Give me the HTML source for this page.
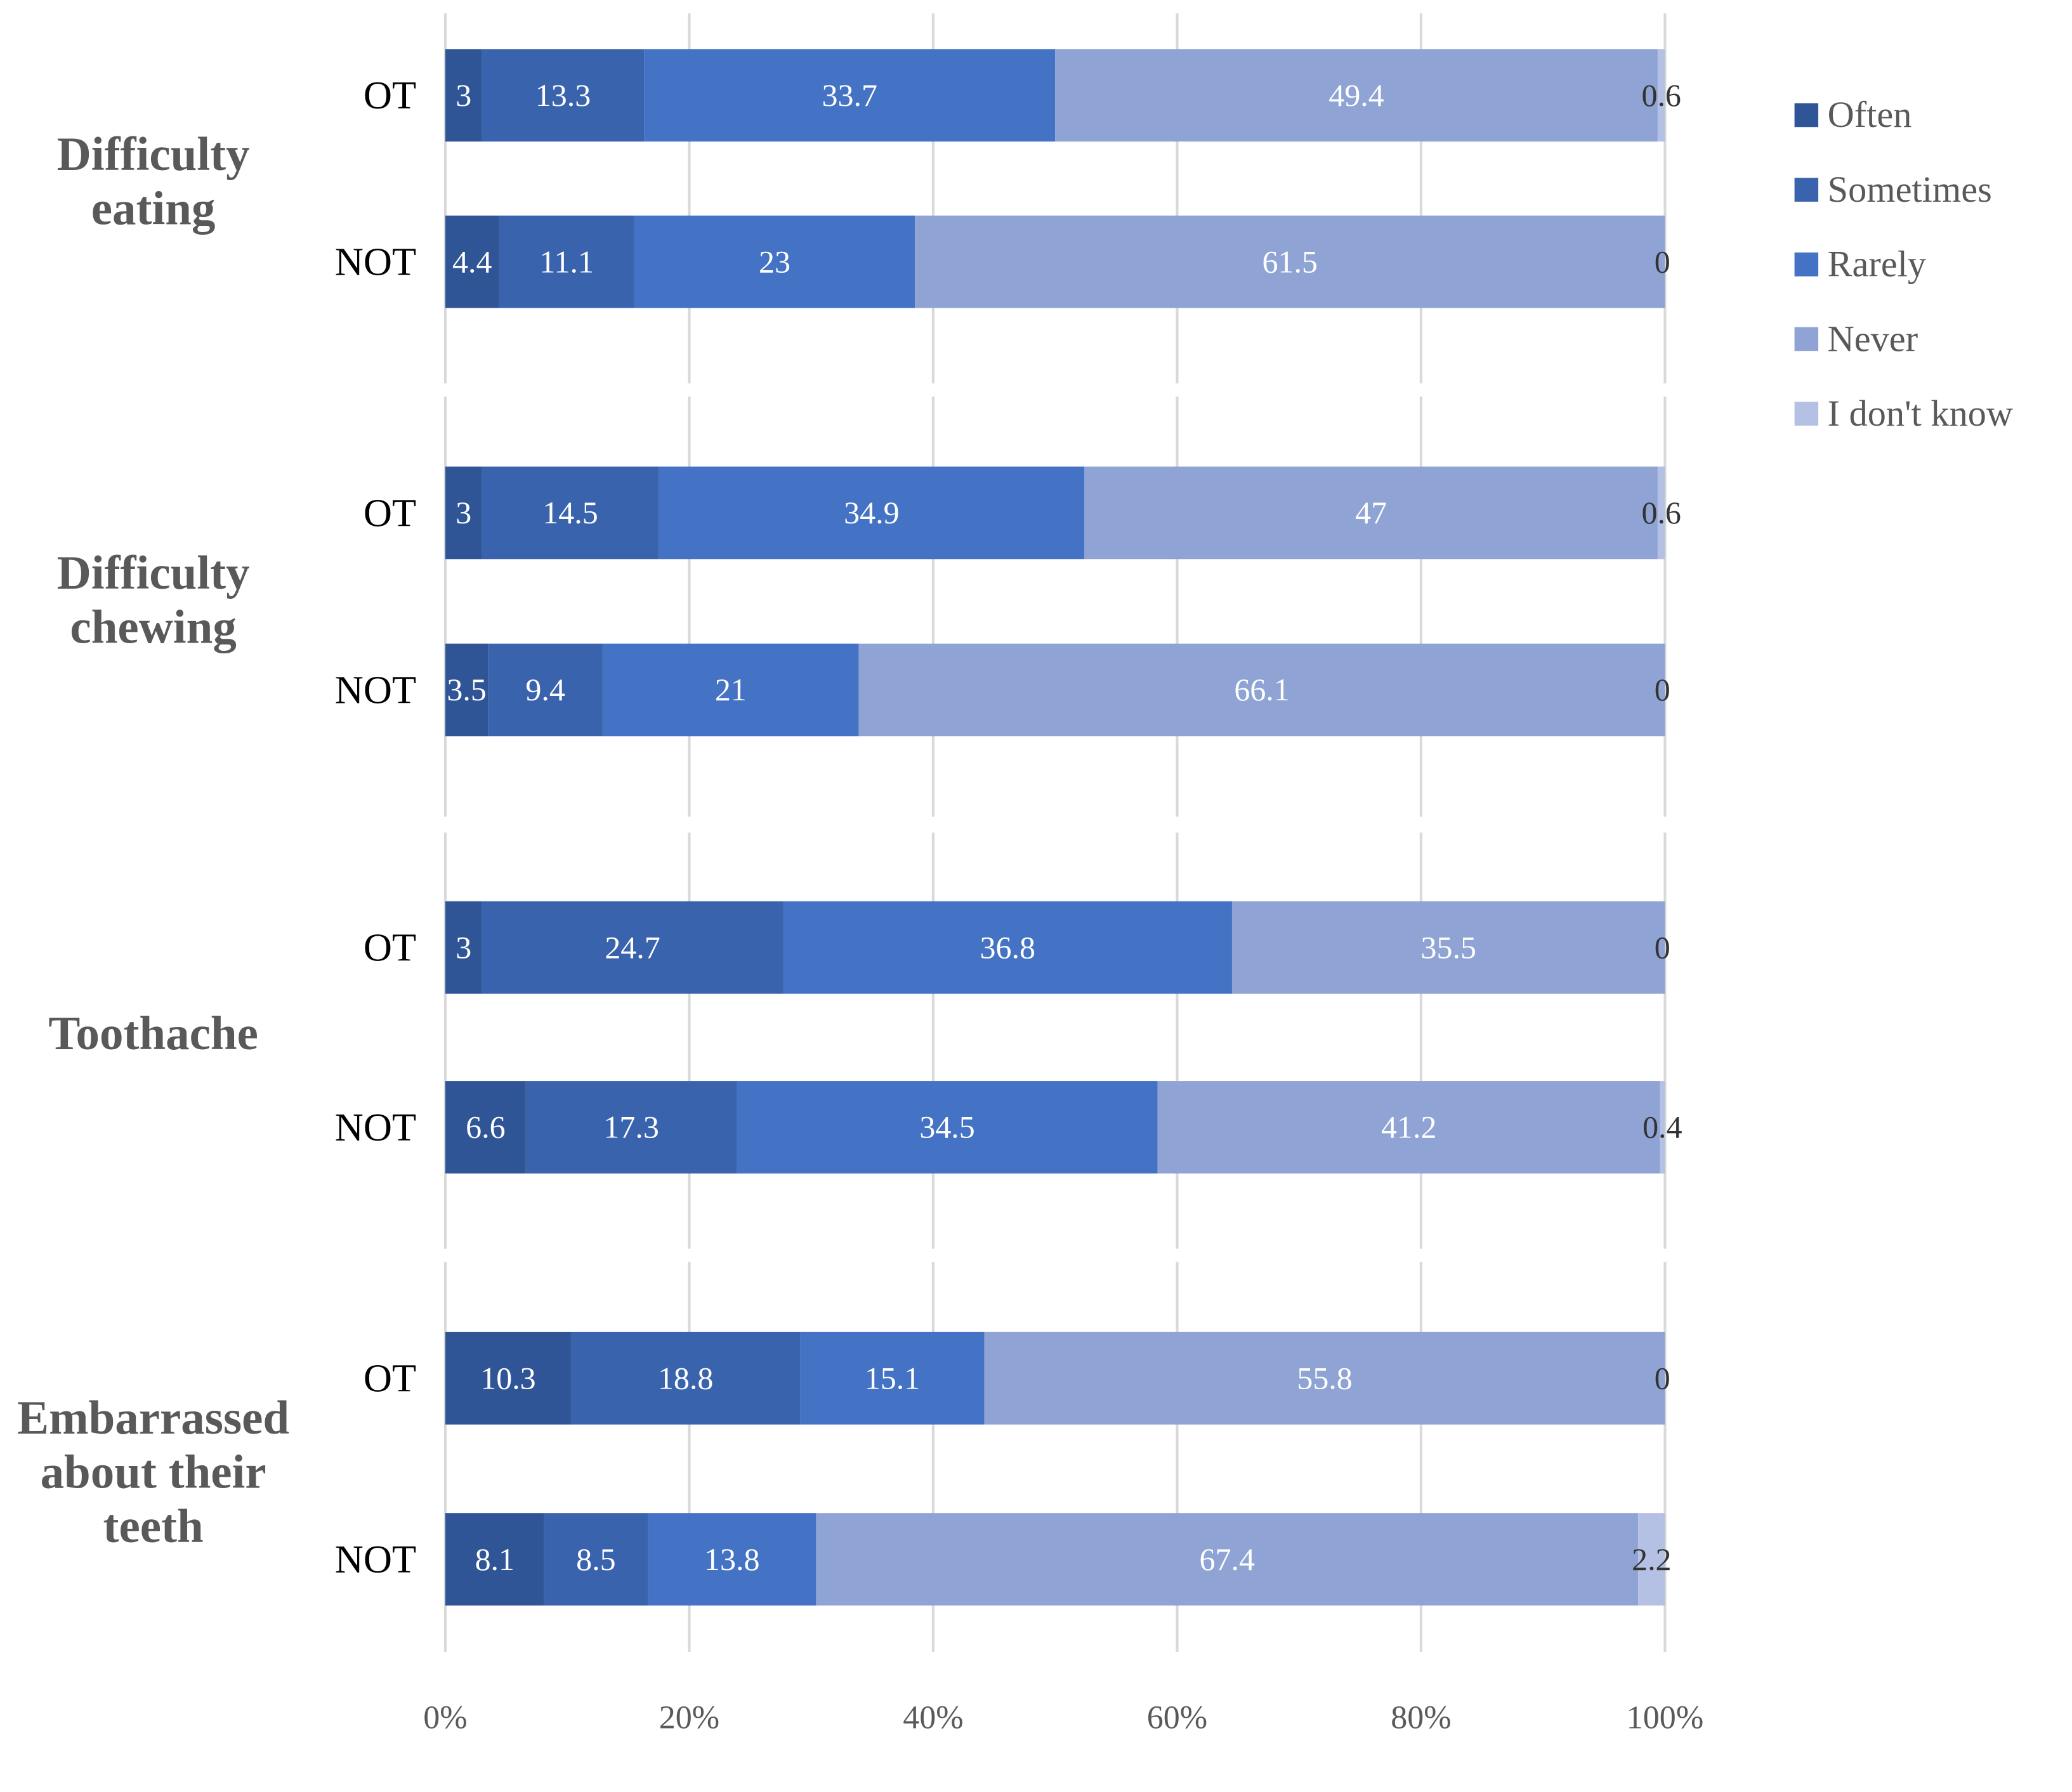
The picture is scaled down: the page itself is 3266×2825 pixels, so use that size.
<!DOCTYPE html>
<html><head><meta charset="utf-8"><style>
html,body{margin:0;padding:0;background:#fff;}
svg{display:block;}
</style></head><body>
<svg id="chart" width="3266" height="2825" viewBox="0 0 1568 1356" xmlns="http://www.w3.org/2000/svg" font-family="'Liberation Serif', serif"></svg>
<script>
const groups = ["Difficulty eating","Difficulty chewing","Toothache","Embarrassed about their teeth"];
const groupLines = [["Difficulty","eating"],["Difficulty","chewing"],["Toothache"],["Embarrassed","about their","teeth"]];
const rowLabels = ["OT","NOT"];
const seriesNames = ["Often","Sometimes","Rarely","Never","I don't know"];
const oftenVals =     [3,4.4,3,3.5,3,6.6,10.3,8.1];
const sometimesVals = [13.3,11.1,14.5,9.4,24.7,17.3,18.8,8.5];
const rarelyVals =    [33.7,23,34.9,21,36.8,34.5,15.1,13.8];
const neverVals =     [49.4,61.5,47,66.1,35.5,41.2,55.8,67.4];
const dkVals =        [0.6,0,0.6,0,0,0.4,0,2.2];
const ticks = [0,20,40,60,80,100];

const svg = document.getElementById('chart');
const NS = 'http://www.w3.org/2000/svg';
const colors = ["#2f5597","#3a63ad","#4472c4","#8fa4d4","#b4c1e4"];
const X0 = 337, X1 = 1260;
const xScale = v => X0 + (X1 - X0) * v / 100;
const rowY = [37,163,353,487,682,818,1008,1145];
const barH = 70;
const panelRanges = [[10,290],[300,618],[630,945],[955,1250]];
function mk(tag, attrs, parent){
  const e = document.createElementNS(NS, tag);
  for (const k in attrs) e.setAttribute(k, attrs[k]);
  (parent||svg).appendChild(e);
  return e;
}
panelRanges.forEach((r,pi)=>{
  ticks.forEach(t=>{
    const g = mk('line',{x1:xScale(t),x2:xScale(t),y1:r[0],y2:r[1],stroke:'#d9d9d9','stroke-width':2});
    
    
  });
});
ticks.forEach(t=>{
  const tx = mk('text',{x:xScale(t),y:1308,'text-anchor':'middle','font-size':25,fill:'#595959'});
  tx.textContent = t + '%';
  
  
});
const all = [oftenVals,sometimesVals,rarelyVals,neverVals,dkVals];
for (let i=0;i<8;i++){
  let acc = 0;
  const y = rowY[i];
  for (let s=0;s<5;s++){
    const v = all[s][i];
    const r = mk('rect',{x:xScale(acc),y:y,width:xScale(acc+v)-xScale(acc),height:barH,fill:colors[s]});
    
    
    const cx = s===4 ? Math.min(xScale(acc+v/2), X1-2) : xScale(acc+v/2);
    const t = mk('text',{x:cx,y:y+barH/2+8,'text-anchor':'middle','font-size':24,fill:s===4?'#333':'#fff'});
    t.textContent = String(v);
    
    
    acc += v;
  }
  const rl = mk('text',{x:315,y:y+barH/2+10,'text-anchor':'end','font-size':30,fill:'#000'});
  rl.textContent = rowLabels[i%2];
  
  
}
const groupCenters = [137,454,782,1114];
groupLines.forEach((lines,gi)=>{
  const lh = 41;
  const start = groupCenters[gi] - (lines.length-1)*lh/2 + 12;
  lines.forEach((ln,li)=>{
    const t = mk('text',{x:116,y:start+li*lh,'text-anchor':'middle','font-size':36,'font-weight':'bold',fill:'#595959'});
    t.textContent = ln;
    
    
  });
});
seriesNames.forEach((n,i)=>{
  const y = 87 + i*56.5;
  const sq = mk('rect',{x:1358,y:y-9,width:18,height:18,fill:colors[i]});
  
  
  const t = mk('text',{x:1383,y:y+9,'font-size':28,fill:'#595959'});
  t.textContent = n;
  
  
});
</script>
</body></html>
